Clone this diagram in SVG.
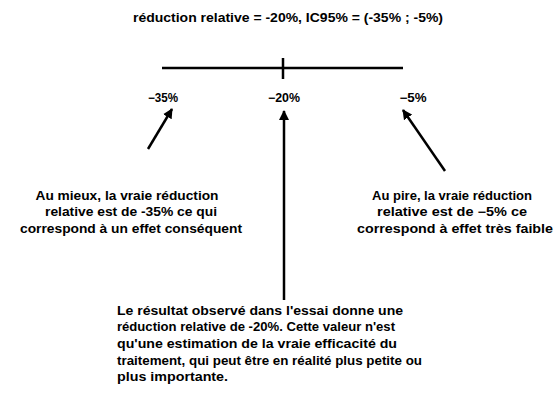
<svg xmlns="http://www.w3.org/2000/svg" width="554" height="396" viewBox="0 0 554 396">
  <defs>
    <style>
      .t { font-family: "Liberation Sans", Arial, sans-serif; font-weight: bold; font-size: 12px; fill: #000; }
      .c { text-anchor: middle; }
      .line { stroke: #000; stroke-width: 2.5; fill: none; }
    </style>
    <marker id="head" viewBox="0 0 10 10" refX="9" refY="5" markerWidth="4" markerHeight="4" orient="auto" markerUnits="strokeWidth">
      <path d="M0,0 L10,5 L0,10 Z" fill="#000"/>
    </marker>
  </defs>
  <rect width="554" height="396" fill="#fff"/>

  <g id="title">
    <text class="t c" x="288" y="22" textLength="310" lengthAdjust="spacingAndGlyphs">réduction relative = -20%, IC95% = (-35% ; -5%)</text>
  </g>

  <g id="scale">
    <line class="line" x1="162" y1="68" x2="403" y2="68" stroke-width="3"/>
    <line class="line" x1="283" y1="58" x2="283" y2="79" stroke-width="3.5"/>
    <text class="t c" x="163" y="102" textLength="30" lengthAdjust="spacingAndGlyphs">−35%</text>
    <text class="t c" x="284" y="102" textLength="32" lengthAdjust="spacingAndGlyphs">−20%</text>
    <text class="t c" x="413" y="102" textLength="27" lengthAdjust="spacingAndGlyphs">−5%</text>
  </g>

  <g id="connectors">
    <line class="line" x1="148" y1="149" x2="172" y2="109" marker-end="url(#head)" stroke-width="2"/>
    <line class="line" x1="284" y1="300" x2="284" y2="111" marker-end="url(#head)" stroke-width="2.5"/>
    <line class="line" x1="445" y1="171" x2="403" y2="110" marker-end="url(#head)" stroke-width="2"/>
  </g>

  <g id="best-case">
    <text class="t c" x="127" y="200" textLength="183" lengthAdjust="spacingAndGlyphs">Au mieux, la vraie réduction</text>
    <text class="t c" x="131" y="216" textLength="172" lengthAdjust="spacingAndGlyphs">relative est de -35% ce qui</text>
    <text class="t c" x="131" y="233" textLength="222" lengthAdjust="spacingAndGlyphs">correspond à un effet conséquent</text>
  </g>

  <g id="worst-case">
    <text class="t c" x="452" y="200" textLength="160" lengthAdjust="spacingAndGlyphs">Au pire, la vraie réduction</text>
    <text class="t c" x="452" y="216" textLength="150" lengthAdjust="spacingAndGlyphs">relative est de −5% ce</text>
    <text class="t c" x="455" y="233" textLength="196" lengthAdjust="spacingAndGlyphs">correspond à effet très faible</text>
  </g>

  <g id="observed">
    <text class="t" x="117" y="315" textLength="286" lengthAdjust="spacingAndGlyphs">Le résultat observé dans l'essai donne une</text>
    <text class="t" x="117" y="331" textLength="278" lengthAdjust="spacingAndGlyphs">réduction relative de -20%. Cette valeur n'est</text>
    <text class="t" x="117" y="348" textLength="280" lengthAdjust="spacingAndGlyphs">qu'une estimation de la vraie efficacité du</text>
    <text class="t" x="117" y="365" textLength="305" lengthAdjust="spacingAndGlyphs" font-size="13">traitement, qui peut être en réalité plus petite ou</text>
    <text class="t" x="117" y="381" textLength="111" lengthAdjust="spacingAndGlyphs">plus importante.</text>
  </g>
</svg>
